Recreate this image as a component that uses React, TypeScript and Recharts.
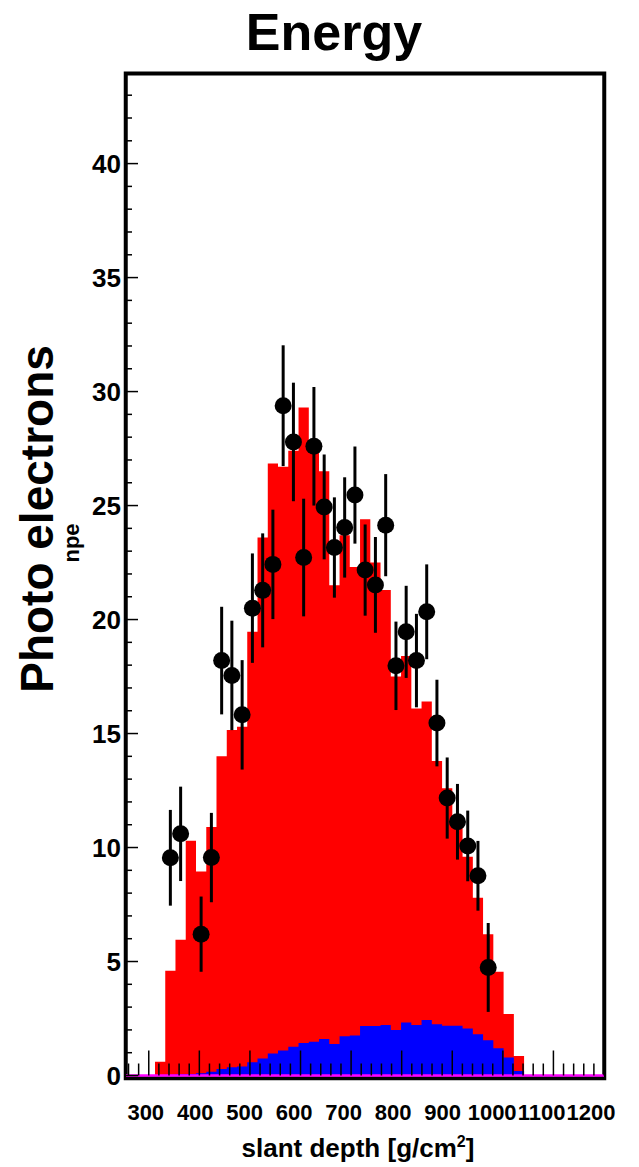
import React from "react";
import {
  ComposedChart,
  Area,
  Scatter,
  ErrorBar,
  XAxis,
  YAxis,
  ReferenceLine,
  ReferenceArea,
} from "recharts";

// bin edges of the histograms, slant depth in g/cm2
const binEdges = [
  312.3, 332.6, 352.8, 373.1, 393.4, 413.7, 433.9, 454.2, 474.5, 494.7, 515.0, 535.3,
  555.5, 575.8, 596.1, 616.4, 636.6, 656.9, 677.2, 697.4, 717.7, 738.0, 758.2, 778.5,
  798.8, 819.1, 839.3, 859.6, 879.9, 900.1, 920.4, 940.7, 960.9, 981.2, 1001.5, 1021.8,
  1042.0,
];

// simulated total (red) and the blue component, one value per bin
const redValues = [
  0.6, 4.6, 5.95, 10.3, 8.95, 10.9, 14.0, 15.15, 15.3, 19.47, 23.6, 26.85, 26.7, 27.4,
  29.3, 27.4, 26.5, 21.5, 23.7, 22.3, 24.4, 22.5, 21.3, 17.5, 18.4, 16.1, 16.4, 13.8,
  12.6, 11.0, 9.6, 7.8, 6.2, 4.55, 2.7, 0.86,
];
const blueValues = [
  0.02, 0.03, 0.05, 0.07, 0.1, 0.16, 0.28, 0.36, 0.4, 0.58, 0.75, 0.97, 1.1, 1.26, 1.43,
  1.48, 1.6, 1.38, 1.72, 1.76, 2.17, 2.17, 2.22, 2.0, 2.33, 2.22, 2.43, 2.25, 2.18, 2.18,
  2.06, 1.81, 1.55, 1.2, 0.79, 0.2,
];

// measured data points (bin centres), value and error
const pointX = [
  342.7, 363.0, 403.5, 423.8, 444.1, 464.3, 484.6, 504.9, 525.2, 545.4, 565.7, 586.0,
  606.2, 626.5, 646.8, 667.0, 687.3, 707.6, 727.8, 748.1, 768.4, 788.7, 808.9, 829.2,
  849.5, 869.7, 890.0, 910.3, 930.6, 950.8, 971.1,
];
const pointY = [
  9.55, 10.6, 6.2, 9.56, 18.2, 17.55, 15.82, 20.5, 21.28, 22.42, 29.38, 27.79, 22.72,
  27.6, 24.94, 23.16, 24.04, 25.46, 22.17, 21.52, 24.14, 17.97, 19.46, 18.2, 20.34,
  15.46, 12.17, 11.13, 10.07, 8.76, 4.74,
];
const pointErr = [
  2.1, 2.07, 1.65, 1.96, 2.36, 2.4, 2.4, 2.4, 2.5, 2.4, 2.65, 2.6, 2.58, 2.6, 2.3, 2.2,
  2.2, 2.13, 2.0, 2.1, 2.24, 1.94, 2.02, 2.05, 2.08, 1.9, 1.78, 1.66, 1.55, 1.53, 1.95,
];

const xTicks = [
  260, 280, 300, 320, 340, 360, 380, 400, 420, 440, 460, 480, 500, 520, 540, 560, 580,
  600, 620, 640, 660, 680, 700, 720, 740, 760, 780, 800, 820, 840, 860, 880, 900, 920,
  940, 960, 980, 1000, 1020, 1040, 1060, 1080, 1100, 1120, 1140, 1160, 1180, 1200,
];
const yTicks = [
  0, 1, 2, 3, 4, 5, 6, 7, 8, 9, 10, 11, 12, 13, 14, 15, 16, 17, 18, 19, 20, 21, 22, 23,
  24, 25, 26, 27, 28, 29, 30, 31, 32, 33, 34, 35, 36, 37, 38, 39, 40, 41, 42, 43,
];

const X_DOMAIN: [number, number] = [255, 1200];
const Y_DOMAIN: [number, number] = [0, 43.93];
const FONT = '"Liberation Sans", Arial, Helvetica, sans-serif';

const histData = binEdges.map((x, i) => ({
  x,
  red: redValues[i] ?? 0,
  blue: blueValues[i] ?? 0,
}));

const points = pointX.map((x, i) => ({ x, y: pointY[i], err: pointErr[i] }));

// ROOT style ticks: drawn inward from the frame, labels only on the majors
function XTick(props: any) {
  const { x, y, payload } = props;
  const v = payload.value as number;
  const major = v % 100 === 0;
  // the labels in the original drift slightly left of their ticks
  const shift = 3 + (v - 300) * 0.011;
  return (
    <g>
      <line x1={x} x2={x} y1={y} y2={y - (major ? 25 : 12)} stroke="#000" strokeWidth={1.5} />
      {major && (
        <text x={x - shift} y={y + 44} textAnchor="middle" fontSize={22} fontWeight="bold" fontFamily={FONT} fill="#000">
          {v}
        </text>
      )}
    </g>
  );
}

function YTick(props: any) {
  const { x, y, payload } = props;
  const v = payload.value as number;
  const major = v % 5 === 0;
  return (
    <g>
      <line x1={x} x2={x + (major ? 12 : 6)} y1={y} y2={y} stroke="#000" strokeWidth={1.5} />
      {major && (
        <text x={x - 5} y={y + 9.3} textAnchor="end" fontSize={26} fontWeight="bold" fontFamily={FONT} fill="#000">
          {v}
        </text>
      )}
    </g>
  );
}

function Dot(props: any) {
  const { cx, cy } = props;
  if (cx == null || cy == null) return null;
  return <circle cx={cx} cy={cy} r={8.5} fill="#000" />;
}

export default function App() {
  return (
    <div style={{ position: "absolute", left: 0, top: 0, width: 639, height: 1167, background: "#fff" }}>
      <ComposedChart
        width={639}
        height={1167}
        data={histData}
        margin={{ top: 74, right: 35, bottom: 51.5, left: 66 }}
      >
        <Area
          type="stepAfter"
          dataKey="red"
          fill="#ff0000"
          fillOpacity={1}
          stroke="none"
          isAnimationActive={false}
        />
        <Area
          type="stepAfter"
          dataKey="blue"
          fill="#0000ff"
          fillOpacity={1}
          stroke="none"
          isAnimationActive={false}
        />
        <ReferenceLine y={0} stroke="#ff00ff" strokeWidth={2.5} />
        <XAxis
          type="number"
          dataKey="x"
          domain={X_DOMAIN}
          ticks={xTicks}
          interval={0}
          allowDataOverflow
          height={40}
          tickSize={0}
          tickMargin={0}
          axisLine={false}
          tickLine={false}
          tick={(p: any) => <XTick {...p} />}
        />
        <YAxis
          type="number"
          domain={Y_DOMAIN}
          ticks={yTicks}
          interval={0}
          allowDataOverflow
          width={60}
          tickSize={0}
          tickMargin={0}
          axisLine={false}
          tickLine={false}
          tick={(p: any) => <YTick {...p} />}
        />
        <Scatter data={points} dataKey="y" shape={(p: any) => <Dot {...p} />} isAnimationActive={false}>
          <ErrorBar dataKey="err" direction="y" width={0} stroke="#000" strokeWidth={3} />
        </Scatter>
        <ReferenceArea
          x1={254.5}
          x2={1200.5}
          y1={-0.12}
          y2={43.95}
          ifOverflow="visible"
          fill="none"
          stroke="#000"
          strokeWidth={4}
        />
      </ComposedChart>
      <svg
        width={639}
        height={1167}
        style={{ position: "absolute", left: 0, top: 0, pointerEvents: "none" }}
      >
        <text x={334} y={50} textAnchor="middle" fontSize={52} fontWeight="bold" fontFamily={FONT} fill="#000">
          Energy
        </text>
        <text x={358} y={1157} textAnchor="middle" fontSize={26} fontWeight="bold" fontFamily={FONT} fill="#000">
          slant depth [g/cm
          <tspan fontSize={16} dy={-10}>2</tspan>
          <tspan dy={10}>]</tspan>
        </text>
        <text
          transform="translate(53,519) rotate(-90)"
          textAnchor="middle"
          fontSize={46}
          fontWeight="bold"
          fontFamily={FONT}
          fill="#000"
        >
          Photo electrons
        </text>
        <text
          transform="translate(79,543) rotate(-90)"
          textAnchor="middle"
          fontSize={22}
          fontWeight="bold"
          fontFamily={FONT}
          fill="#000"
        >
          npe
        </text>
      </svg>
    </div>
  );
}
